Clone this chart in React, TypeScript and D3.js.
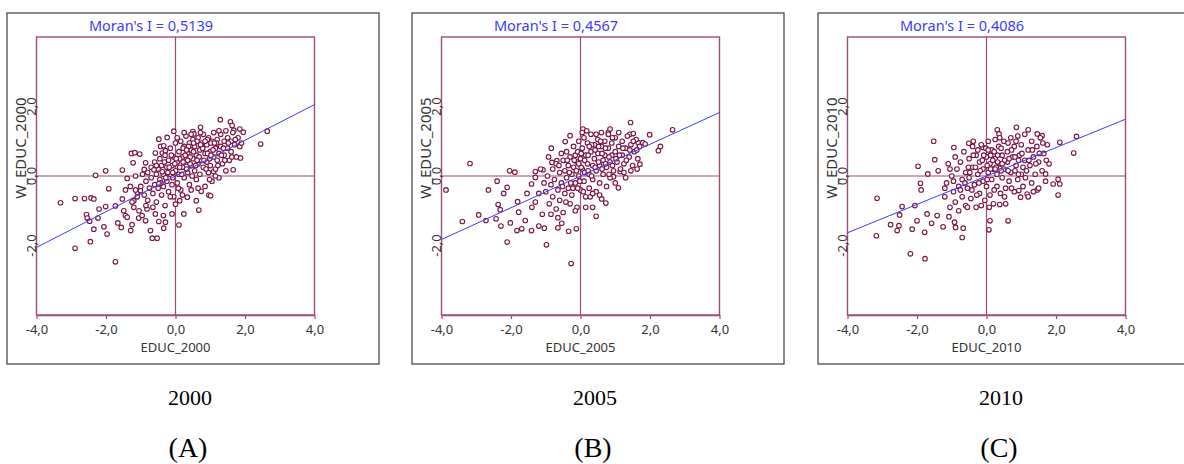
import * as d3 from 'd3';
import React, { useEffect, useRef } from 'react';

// Moran scatter plots for three years
const years = ['2000', '2005', '2010'];
const letters = ['(A)', '(B)', '(C)'];
const moransI = [0.5139, 0.4567, 0.4086];
const xTicks = [-4, -2, 0, 2, 4];
const yTicks = [-2, 0, 2];

// standardized EDUC (x) vs spatial lag W_EDUC (y)
const pointsA: [number, number][] = [
  [-3.31,-0.77],[-2.89,-2.08],[-2.45,-1.89],[-1.73,-2.47],[-2.30,0.02],[-2.01,0.15],[-2.89,-0.65],[-2.62,-0.65],
  [-2.43,-0.63],[-2.35,-0.66],[-2.56,-1.11],[-2.54,-1.21],[-2.47,-1.30],[-2.23,-1.21],[-2.20,-0.95],[-2.01,-0.88],
  [-2.35,-1.53],[-2.06,-1.46],[-1.97,-1.67],[-1.92,-0.37],[-1.53,0.17],[-1.39,-0.07],[-1.22,0.38],[-1.27,0.65],
  [-1.17,0.67],[-1.03,0.63],[-0.86,0.38],[-0.90,0.19],[-1.73,-0.86],[-1.53,-0.66],[-1.44,-0.40],[-1.49,-1.00],
  [-1.44,-1.14],[-1.66,-1.35],[-1.56,-1.48],[-1.29,-1.57],[-1.25,-1.40],[-1.39,-1.19],[-1.10,-0.47],[-1.01,-0.42],
  [-1.20,-0.71],[-1.06,-1.21],[-0.96,-1.14],[-0.82,-0.95],[-0.86,-1.29],[-0.72,-1.57],[-0.67,-1.79],[-0.53,-1.79],
  [-0.34,-1.50],[-0.48,-1.31],[-0.58,-1.09],[-0.35,-1.14],[-0.29,-1.33],[-0.10,-1.09],[0.10,-1.41],[0.24,-1.09],
  [0.00,-0.81],[0.12,-0.71],[0.34,-0.61],[0.60,-0.71],[0.67,-0.98],[0.74,-0.44],[0.96,-0.55],[1.01,-0.57],
  [1.29,1.62],[1.58,1.56],[1.63,1.45],[1.68,1.32],[1.85,1.35],[1.95,1.26],[2.64,1.29],[2.45,0.92],
  [1.87,0.52],[1.66,0.18],[1.10,0.13],[0.72,1.40],[0.50,1.28],[0.53,1.21],[-0.05,1.29],[-0.24,1.11],
  [-0.48,1.06],[-0.43,0.85],[-0.34,0.87],[-0.58,0.66],[-0.38,0.66],[-0.29,0.73],
  [-1.0,-0.3],[-0.95,0.05],[-0.9,-0.55],[-0.85,-0.15],[-0.8,0.1],[-0.8,-0.7],[-0.75,-0.35],[-0.7,0.25],
  [-0.7,-0.05],[-0.65,-0.5],[-0.6,0.4],[-0.6,-0.25],[-0.55,0.05],[-0.55,-0.75],[-0.5,0.2],[-0.5,-0.35],
  [-0.45,0.5],[-0.45,-0.1],[-0.4,-0.55],[-0.4,0.3],[-0.35,0.05],[-0.35,-0.3],[-0.3,0.6],[-0.3,-0.85],
  [-0.25,0.25],[-0.25,-0.15],[-0.2,0.45],[-0.2,-0.45],[-0.15,0.05],[-0.15,0.8],[-0.1,0.3],[-0.1,-0.25],
  [-0.05,0.55],[-0.05,-0.6],[0.0,0.15],[0.0,0.95],[0.05,0.4],[0.05,-0.2],[0.1,0.7],[0.1,0.05],
  [0.15,1.0],[0.15,-0.4],[0.2,0.25],[0.2,0.55],[0.25,0.85],[0.25,-0.05],[0.3,0.4],[0.3,1.15],
  [0.35,0.1],[0.35,0.65],[0.4,0.95],[0.4,-0.25],[0.45,0.3],[0.45,0.75],[0.5,0.5],[0.5,1.05],
  [0.55,0.15],[0.55,0.85],[0.6,0.6],[0.6,-0.1],[0.65,1.1],[0.65,0.35],[0.7,0.75],[0.7,0.05],
  [0.75,0.95],[0.75,0.45],[0.8,1.2],[0.8,0.25],[0.85,0.65],[0.85,-0.3],[0.9,0.9],[0.9,0.4],
  [0.95,1.1],[0.95,0.1],[1.0,0.7],[1.0,0.3],[1.05,1.0],[1.05,-0.15],[1.1,0.55],[1.1,1.25],
  [1.15,0.8],[1.15,0.2],[1.2,1.05],[1.2,0.45],[1.25,0.65],[1.25,-0.05],[1.3,1.2],[1.3,0.85],
  [1.35,0.35],[1.4,1.0],[1.4,0.6],[1.45,1.3],[1.45,0.15],[1.5,0.8],[1.5,1.1],[1.55,0.45],
  [1.6,1.0],[1.6,0.7],[1.65,1.25],[1.7,0.9],[1.75,0.55],[1.8,1.1],[1.85,0.85],[1.9,0.95],
  [-1.2,-0.9],[-1.1,-0.6],[-1.3,-0.3],[-1.15,0.0],[-1.25,-0.75],[-1.05,-1.0],
  [0.12,0.5],[0.22,0.8],[0.32,0.2],[0.42,0.55],[-0.12,0.6],[0.18,0.05],[0.28,0.6],[0.58,0.3],
  [0.68,0.55],[0.78,0.8],[0.88,0.2],[0.98,0.5],[1.08,0.75],[-0.02,0.35],[-0.22,0.1],[0.08,-0.35],
  [0.48,0.0],[0.38,0.85],[1.18,0.95],[1.38,0.8],[0.62,1.0],[0.72,1.25],[0.92,0.65],[1.02,0.95],
  [0.52,0.7],[-0.32,0.4],[-0.42,-0.2],[-0.08,0.1],
  [-0.62,0.18],[-0.48,-0.22],[-0.38,0.12],[-0.28,-0.05],[-0.18,0.25],[-0.08,-0.05],[0.02,0.5],[0.12,0.25],
  [0.22,0.4],[0.32,0.75],[0.42,0.35],[0.52,0.95],[0.62,0.45],[0.72,0.9],[0.82,0.45],[0.92,1.05],
  [1.02,0.6],[1.12,0.95],[1.22,0.3],[1.32,0.6],[1.42,0.45],[1.52,0.95],[1.62,0.55],[1.72,1.05],
  [0.05,1.1],[0.25,1.25],[0.45,1.2],[0.85,1.0],[1.25,1.3],[-0.15,-0.6],[0.2,-0.55],[0.45,-0.4],
  [0.65,-0.35],[-0.65,-0.9],[-0.85,-0.85],[-1.15,-0.4],[0.98,-0.1],[1.15,0.0],[0.35,0.45],[-0.55,0.3]
];

const pointsB: [number, number][] = [
  [-3.87,-0.40],[-3.18,0.36],[-3.40,-1.31],[-2.93,-1.12],[-2.72,-1.28],[-2.65,-0.40],[-2.40,-0.15],[-2.21,-0.50],
  [-2.11,-0.33],[-2.04,0.15],[-1.89,0.11],[-2.37,-0.82],[-2.31,-0.97],[-2.43,-1.23],[-2.29,-1.44],[-2.02,-1.35],
  [-2.11,-1.90],[-1.81,-0.74],[-1.78,-1.04],[-1.83,-1.57],[-1.69,-1.52],[-1.59,-1.28],[-1.54,-0.50],[-1.41,-0.23],
  [-1.41,-1.57],[-1.30,0.13],[-1.30,-0.04],[-1.08,0.18],[-0.98,-1.98],[-0.84,0.80],[-0.92,0.55],[-0.82,0.39],
  [-0.68,0.44],[-1.20,-1.44],[-1.04,-1.50],[-0.65,-1.49],[-0.54,-1.36],[-0.34,-1.59],[-0.27,-2.52],[-0.12,-1.52],
  [0.07,1.35],[-0.30,1.16],[-0.44,0.99],[0.45,-1.16],[0.35,-0.90],[0.61,-0.66],[0.73,-0.78],[1.09,-0.34],
  [1.44,1.54],[1.99,1.19],[2.65,1.33],[2.30,0.85],[2.24,0.73],[1.71,0.34],[1.63,0.20],[1.14,0.13],
  [0.95,-0.02],[0.80,1.25],[0.85,1.35],[1.42,1.20],[1.52,1.22],[1.66,0.96],[1.79,0.96],[1.86,0.92],
  [-1.0,-0.45],[-0.95,0.0],[-0.9,-0.8],[-0.85,-0.25],[-0.8,0.2],[-0.8,-0.6],[-0.75,-0.1],[-0.7,-0.95],
  [-0.7,0.35],[-0.65,-0.4],[-0.6,0.1],[-0.6,-0.7],[-0.55,-0.2],[-0.5,0.45],[-0.5,-1.05],[-0.45,-0.5],
  [-0.45,0.15],[-0.4,-0.05],[-0.4,0.7],[-0.35,-0.35],[-0.35,0.3],[-0.3,-0.8],[-0.3,0.55],[-0.25,0.05],
  [-0.25,-0.55],[-0.2,0.85],[-0.2,0.25],[-0.15,-0.2],[-0.15,0.6],[-0.1,-0.9],[-0.1,0.4],[-0.05,0.0],
  [-0.05,1.0],[0.0,0.5],[0.0,-0.4],[0.05,0.8],[0.05,0.2],[0.1,-0.15],[0.1,1.1],[0.15,0.6],
  [0.15,-0.6],[0.2,0.35],[0.2,0.95],[0.25,0.05],[0.25,-0.35],[0.3,0.7],[0.3,1.2],[0.35,0.3],
  [0.35,-0.1],[0.4,0.9],[0.4,0.5],[0.45,-0.45],[0.45,0.15],[0.5,1.05],[0.5,0.65],[0.55,0.3],
  [0.55,-0.2],[0.6,0.85],[0.6,1.25],[0.65,0.45],[0.65,0.05],[0.7,1.0],[0.7,0.6],[0.75,-0.3],
  [0.75,0.25],[0.8,0.8],[0.8,1.2],[0.85,0.4],[0.85,-0.05],[0.9,0.95],[0.9,0.6],[0.95,0.15],
  [1.0,1.1],[1.0,0.7],[1.0,-0.2],[1.05,0.4],[1.1,0.85],[1.1,1.25],[1.15,0.2],[1.2,0.6],
  [1.2,1.0],[1.25,0.35],[1.3,0.8],[1.3,-0.05],[1.35,1.15],[1.4,0.55],[1.45,0.9],[1.5,0.3],
  [1.55,0.7],[1.6,1.05],[1.65,0.5],[1.7,0.85],
  [-1.2,-0.5],[-1.15,0.2],[-1.1,-1.1],[-1.05,-0.2],[0.02,0.25],[0.12,0.45],[0.22,0.6],[-0.02,-0.15],
  [-0.12,0.15],[0.32,0.0],[0.42,0.75],[0.52,0.4],[0.62,0.2],[0.72,0.35],[0.82,0.55],[-0.22,-0.35],
  [-0.32,0.1],[0.08,-0.45],[0.18,1.3],[-0.08,0.7],[0.28,-0.6],[-0.42,-0.75],[0.58,1.0],[0.92,0.3],
  [-0.62,0.3],[-0.52,-0.3],[-0.38,0.45],[-0.28,-0.2],[-0.18,0.45],[-0.08,-0.35],[0.02,0.65],[0.12,0.1],
  [0.22,0.15],[0.32,0.9],[0.42,0.25],[0.52,0.85],[0.62,0.65],[0.72,0.8],[0.82,0.05],[0.92,1.1],
  [1.02,0.5],[1.12,0.6],[1.22,0.8],[1.32,0.45],[1.42,0.75],[1.52,1.0],[1.62,0.75],[0.05,1.25],
  [0.25,0.85],[-0.85,-1.1],[-0.65,-1.2],[-0.15,-1.0],[0.15,-0.9],[0.35,-0.5],[0.55,-0.55],[-1.3,-0.75],
  [-1.4,-0.9],[1.25,0.1],[1.45,0.15],[-0.55,0.65],[-0.05,0.35],[0.45,1.2]
];

const pointsC: [number, number][] = [
  [-3.15,-0.64],[-3.17,-1.72],[-2.76,-1.40],[-2.57,-1.57],[-2.52,-1.43],[-2.50,-1.12],[-2.43,-0.88],[-2.19,-2.24],
  [-1.77,-2.38],[-2.14,-1.53],[-2.00,-1.29],[-2.06,-0.85],[-1.97,0.28],[-1.90,-0.21],[-1.88,-0.40],[-1.78,-1.62],
  [-1.71,-1.09],[-1.69,0.06],[-1.52,1.00],[-1.49,0.47],[-1.39,0.15],[-1.58,-1.36],[-1.42,-1.14],[-1.25,-1.46],
  [-1.20,-0.35],[-1.08,-1.17],[-0.94,0.82],[-0.92,-1.33],[-0.89,-1.48],[-0.70,-1.77],[-0.67,-1.50],[-0.51,0.94],
  [-0.38,1.00],[-0.10,0.82],[0.10,-1.29],[0.07,-1.55],[0.38,-0.82],[0.62,-1.29],[0.31,1.33],[0.36,1.21],
  [0.86,1.40],[1.20,1.33],[1.46,1.21],[1.60,1.16],[2.11,0.97],[2.59,1.14],[2.51,0.66],[2.06,-0.09],
  [2.11,-0.23],[1.92,-0.23],[2.06,-0.55],[1.46,-0.40],[1.70,0.06],[0.98,-0.61],[1.17,-0.52],[0.93,-0.42],
  [-1.2,-0.6],[-1.15,-0.2],[-1.1,0.35],[-1.05,-0.9],[-1.0,0.0],[-0.95,-0.45],[-0.9,0.55],[-0.9,-0.75],
  [-0.85,0.2],[-0.8,-0.3],[-0.8,-1.0],[-0.75,0.4],[-0.7,-0.1],[-0.7,-0.6],[-0.65,0.7],[-0.6,0.1],
  [-0.6,-0.85],[-0.55,-0.35],[-0.5,0.5],[-0.5,-0.05],[-0.45,-0.65],[-0.4,0.25],[-0.4,0.85],[-0.35,-0.25],
  [-0.3,0.6],[-0.3,-0.9],[-0.25,0.05],[-0.2,-0.5],[-0.2,0.4],[-0.15,0.9],[-0.1,-0.15],[-0.1,0.2],
  [-0.05,-0.7],[0.0,0.55],[0.0,-0.3],[0.05,0.1],[0.05,1.0],[0.1,0.35],[0.1,-0.55],[0.15,0.75],
  [0.15,-0.1],[0.2,0.2],[0.2,-0.8],[0.25,0.5],[0.25,1.05],[0.3,-0.3],[0.3,0.05],[0.35,0.85],
  [0.4,0.35],[0.4,-0.5],[0.45,0.6],[0.45,-0.05],[0.5,1.0],[0.5,0.2],[0.55,-0.35],[0.6,0.7],
  [0.6,0.4],[0.65,-0.15],[0.7,1.1],[0.7,0.1],[0.75,0.55],[0.8,-0.45],[0.8,0.85],[0.85,0.3],
  [0.9,-0.1],[0.9,1.15],[0.95,0.6],[1.0,0.05],[1.0,0.9],[1.05,-0.3],[1.1,0.45],[1.1,1.2],
  [1.15,0.15],[1.2,0.75],[1.2,-0.6],[1.25,0.3],[1.3,1.0],[1.3,-0.2],[1.35,0.55],[1.4,0.05],
  [1.45,0.85],[1.5,-0.35],[1.5,0.4],[1.55,1.1],[1.6,0.15],[1.65,0.65],[1.7,-0.15],[1.75,0.9],
  [1.8,0.35],
  [0.02,0.3],[-0.02,0.8],[0.12,0.6],[0.22,-0.4],[0.32,0.6],[0.42,0.15],[-0.12,0.45],[-0.22,-0.2],
  [0.52,-0.6],[0.62,0.95],[-0.32,0.25],[0.72,-0.35],[0.82,0.15],[0.92,0.45],[-0.42,-0.4],[-0.52,0.25],
  [0.08,-0.9],[0.18,0.45],[0.28,0.25],[0.38,1.1],
  [-0.62,-0.2],[-0.48,0.1],[-0.38,0.6],[-0.28,-0.55],[-0.18,0.15],[-0.08,0.6],[0.02,-0.1],[0.12,0.2],
  [0.22,0.7],[0.32,0.4],[0.42,0.8],[0.52,0.45],[0.62,0.15],[0.72,0.75],[0.82,0.55],[0.92,0.05],
  [1.02,0.65],[1.12,-0.05],[1.22,0.45],[1.32,0.75],[1.42,0.35],[1.52,0.65],[1.62,0.95],[1.72,0.45],
  [-0.75,-0.4],[-0.95,-0.15],[-1.05,0.2],[-0.55,-0.9],[0.05,0.75],[0.25,0.2],[0.45,0.35],[0.65,0.5],
  [0.85,1.0],[1.05,0.25],[-0.25,0.75],[1.35,-0.45],[0.55,-0.8],[-0.15,-0.85]
];

const allPoints = [pointsA, pointsB, pointsC];

const frameColor = '#a04a78';
const pointColor = '#7b1545';
const lineColor = '#3c3cff';
const uiFont = '"Noto Sans", sans-serif';

function fmt(v: number) {
  return (v < 0 ? '-' : '') + Math.abs(v).toFixed(1).replace('.', ',');
}

export default function App() {
  const ref = useRef<SVGSVGElement>(null);

  useEffect(() => {
    const svg = d3.select(ref.current);
    svg.selectAll('*').remove();

    const panelLeft = [7, 412, 818];
    const top = 13;
    const boxW = 372, boxH = 351;
    const side = 278;

    years.forEach((yr, i) => {
      const ox = panelLeft[i];
      const ix = ox + 29.5;
      const iy = 37;
      const g = svg.append('g');

      // outer frame
      g.append('rect')
        .attr('x', ox).attr('y', top)
        .attr('width', boxW).attr('height', boxH)
        .attr('fill', 'none').attr('stroke', '#4a4a4a').attr('stroke-width', 1.3);

      const x = d3.scaleLinear().domain([-4, 4]).range([ix, ix + side]);
      const y = d3.scaleLinear().domain([-4, 4]).range([iy + side, iy]);

      // plot area + cross hairs
      g.append('rect')
        .attr('x', ix).attr('y', iy).attr('width', side).attr('height', side)
        .attr('fill', 'none').attr('stroke', frameColor).attr('stroke-width', 1.4);
      g.append('line')
        .attr('x1', x(0)).attr('x2', x(0)).attr('y1', iy).attr('y2', iy + side)
        .attr('stroke', frameColor).attr('stroke-width', 1.2);
      g.append('line')
        .attr('x1', ix).attr('x2', ix + side).attr('y1', y(0)).attr('y2', y(0))
        .attr('stroke', frameColor).attr('stroke-width', 1.2);

      // x axis
      const xAxis = g.append('g')
        .attr('transform', 'translate(0,' + (iy + side) + ')')
        .call(d3.axisBottom(x).tickValues(xTicks).tickSize(4).tickSizeOuter(0).tickFormat((d: any) => fmt(d)));
      xAxis.select('.domain').attr('stroke', frameColor).attr('stroke-width', 1.4);
      xAxis.selectAll('.tick line').attr('stroke', frameColor).attr('stroke-width', 1.2);
      xAxis.selectAll('.tick text')
        .attr('fill', '#333').attr('dy', '0.95em')
        .style('font-family', uiFont).style('font-size', '13px');

      // y tick labels, rotated
      g.selectAll('.ytick')
        .data(yTicks)
        .enter()
        .append('text')
        .attr('transform', d => 'translate(' + (ix - 0.5) + ',' + y(d) + ') rotate(-90)')
        .attr('text-anchor', 'middle')
        .attr('fill', '#333')
        .style('font-family', uiFont).style('font-size', '13px')
        .text(d => fmt(d));

      // axis titles
      g.append('text')
        .attr('transform', 'translate(' + (ox + 19) + ',148) rotate(-90)')
        .attr('text-anchor', 'middle')
        .attr('fill', '#333')
        .style('font-family', uiFont).style('font-size', '15px')
        .text('W_EDUC_' + yr);
      g.append('text')
        .attr('x', x(0)).attr('y', 352)
        .attr('text-anchor', 'middle')
        .attr('fill', '#333')
        .style('font-family', uiFont).style('font-size', '13px')
        .text('EDUC_' + yr);

      // Moran's I title
      g.append('text')
        .attr('x', ox + 144).attr('y', 31)
        .attr('text-anchor', 'middle')
        .attr('fill', lineColor)
        .style('font-family', uiFont).style('font-size', '14.5px')
        .text("Moran's I = " + moransI[i].toFixed(4).replace('.', ','));

      // points
      g.append('g')
        .selectAll('circle')
        .data(allPoints[i])
        .enter()
        .append('circle')
        .attr('cx', d => x(d[0]))
        .attr('cy', d => y(d[1]))
        .attr('r', 2.3)
        .attr('fill', 'white')
        .attr('stroke', pointColor)
        .attr('stroke-width', 1.1);

      // regression line, slope = Moran's I
      const line = d3.line<number>().x(d => x(d)).y(d => y(d * moransI[i]));
      g.append('path')
        .attr('d', line([-4, 4]))
        .attr('fill', 'none')
        .attr('stroke', lineColor)
        .attr('stroke-width', 1);

      // captions under each panel
      const cx = ox + 183;
      g.append('text')
        .attr('x', cx).attr('y', 405)
        .attr('text-anchor', 'middle')
        .style('font-family', '"Liberation Serif", serif').style('font-size', '22px')
        .text(yr);
      g.append('text')
        .attr('x', cx - 2).attr('y', 457)
        .attr('text-anchor', 'middle')
        .style('font-family', '"Liberation Serif", serif').style('font-size', '28px')
        .text(letters[i]);
    });
  }, []);

  return (
    <svg ref={ref} width={1184} height={464}
      style={{ position: 'absolute', left: 0, top: 0, background: 'white' }} />
  );
}
